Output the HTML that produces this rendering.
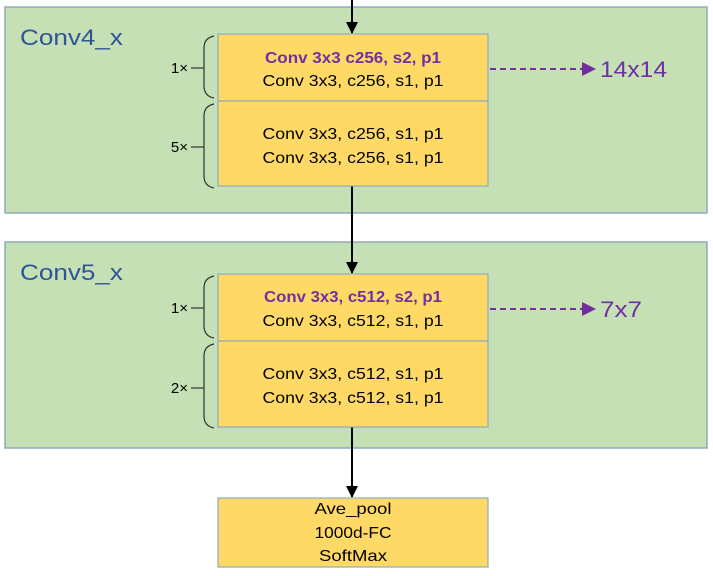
<!DOCTYPE html>
<html><head><meta charset="utf-8"><style>body{margin:0;background:#fff}svg{display:block}</style></head><body>
<svg width="713" height="576" viewBox="0 0 713 576" xmlns="http://www.w3.org/2000/svg" font-family="Liberation Sans, sans-serif">
<defs>
<marker id="ab" markerWidth="12" markerHeight="12" refX="11" refY="6" orient="auto" markerUnits="userSpaceOnUse"><path d="M0,0 L12,6 L0,12 Z" fill="#000"/></marker>
</defs>
<rect x="5" y="7" width="702" height="206" fill="#c5e0b4" stroke="#8faabc" stroke-width="1.5"/>
<rect x="5" y="242" width="702" height="206" fill="#c5e0b4" stroke="#8faabc" stroke-width="1.5"/>
<text x="20" y="45" font-size="22" fill="#2f5597" textLength="103" lengthAdjust="spacingAndGlyphs">Conv4_x</text>
<text x="20" y="280" font-size="22" fill="#2f5597" textLength="103" lengthAdjust="spacingAndGlyphs">Conv5_x</text>
<line x1="352" y1="0" x2="352" y2="33" stroke="#000" stroke-width="2" marker-end="url(#ab)"/>
<line x1="352" y1="186" x2="352" y2="273" stroke="#000" stroke-width="2" marker-end="url(#ab)"/>
<line x1="352" y1="427" x2="352" y2="497" stroke="#000" stroke-width="2" marker-end="url(#ab)"/>
<g fill="#ffd966" stroke="#8faabc" stroke-width="1.2">
<rect x="218" y="34" width="270" height="67"/>
<rect x="218" y="101" width="270" height="85"/>
<rect x="218" y="274" width="270" height="67"/>
<rect x="218" y="341" width="270" height="86"/>
<rect x="218" y="498" width="270" height="69"/>
</g>
<g font-size="16" text-anchor="middle" fill="#000" lengthAdjust="spacingAndGlyphs">
<text x="353" y="63" fill="#7030a0" font-weight="bold" textLength="176" lengthAdjust="spacingAndGlyphs">Conv 3x3 c256, s2, p1</text>
<text x="353" y="86" textLength="181" lengthAdjust="spacingAndGlyphs">Conv 3x3, c256, s1, p1</text>
<text x="353" y="139" textLength="181" lengthAdjust="spacingAndGlyphs">Conv 3x3, c256, s1, p1</text>
<text x="353" y="163" textLength="181" lengthAdjust="spacingAndGlyphs">Conv 3x3, c256, s1, p1</text>
<text x="353" y="302" fill="#7030a0" font-weight="bold" textLength="178" lengthAdjust="spacingAndGlyphs">Conv 3x3, c512, s2, p1</text>
<text x="353" y="326" textLength="181" lengthAdjust="spacingAndGlyphs">Conv 3x3, c512, s1, p1</text>
<text x="353" y="379" textLength="181" lengthAdjust="spacingAndGlyphs">Conv 3x3, c512, s1, p1</text>
<text x="353" y="403" textLength="181" lengthAdjust="spacingAndGlyphs">Conv 3x3, c512, s1, p1</text>
<text x="353" y="514" textLength="77" lengthAdjust="spacingAndGlyphs">Ave_pool</text>
<text x="353" y="538" textLength="77" lengthAdjust="spacingAndGlyphs">1000d-FC</text>
<text x="353" y="561" textLength="68" lengthAdjust="spacingAndGlyphs">SoftMax</text>
</g>
<g fill="none" stroke="#333" stroke-width="1.2">
<path d="M214,36 Q204,38 204,48 L204,86 Q204,96 214,98"/>
<path d="M214,104 Q204,106 204,116 L204,176 Q204,186 214,188"/>
<path d="M214,276 Q204,278 204,288 L204,326 Q204,336 214,338"/>
<path d="M214,344 Q204,346 204,356 L204,416 Q204,426 214,428"/>
<line x1="191" y1="68" x2="204" y2="68"/><line x1="191" y1="147" x2="204" y2="147"/>
<line x1="191" y1="308" x2="204" y2="308"/><line x1="191" y1="388" x2="204" y2="388"/>
</g>
<g font-size="15" fill="#000" text-anchor="end">
<text x="188" y="73">1×</text><text x="188" y="152">5×</text>
<text x="188" y="313">1×</text><text x="188" y="393">2×</text>
</g>
<g stroke="#7030a0" stroke-width="2" stroke-dasharray="6,4">
<line x1="490" y1="69" x2="582" y2="69"/>
<line x1="490" y1="309" x2="582" y2="309"/>
</g>
<path d="M582,62 L596,69 L582,76 Z" fill="#7030a0"/>
<path d="M582,302 L596,309 L582,316 Z" fill="#7030a0"/>
<text x="600" y="77" font-size="22" fill="#7030a0" textLength="67" lengthAdjust="spacingAndGlyphs">14x14</text>
<text x="600" y="317" font-size="22" fill="#7030a0" textLength="42" lengthAdjust="spacingAndGlyphs">7x7</text>
</svg>
</body></html>
